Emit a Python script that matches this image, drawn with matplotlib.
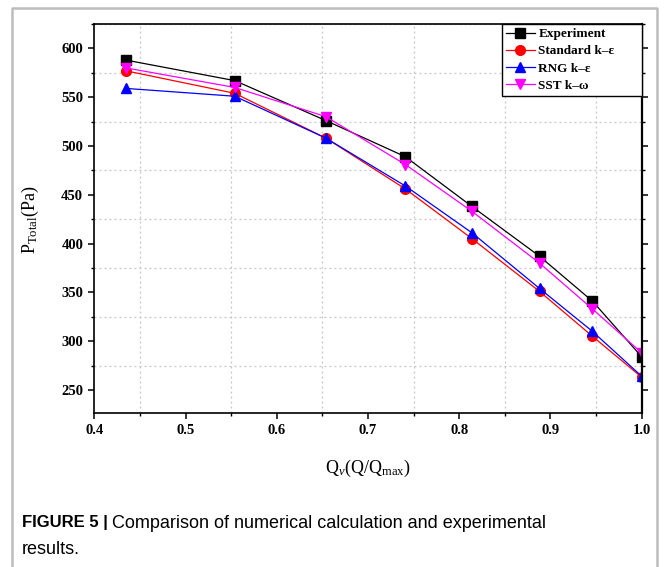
import matplotlib
matplotlib.use("Agg")
import matplotlib.pyplot as plt
from matplotlib.lines import Line2D
from matplotlib.ticker import MultipleLocator

plt.rcParams["font.family"] = "Liberation Serif"
plt.rcParams["mathtext.fontset"] = "custom"
plt.rcParams["mathtext.rm"] = "Liberation Serif"
plt.rcParams["mathtext.it"] = "Liberation Serif:italic"
plt.rcParams["mathtext.bf"] = "Liberation Serif:bold"

# data
flow_ratio = [0.435, 0.554, 0.654, 0.741, 0.814, 0.888, 0.946, 1.0]
experiment = [588, 567, 526, 489, 438, 387, 341, 284]
standard_ke = [577, 554, 508, 456, 405, 351, 305, 263]
rng_ke = [559, 551, 508, 459, 411, 354, 310, 264]
sst_kw = [580, 560, 530, 481, 433, 380, 333, 288]

series = [
    ("Experiment", experiment, "black", "s"),
    ("Standard k\u2013\u03b5", standard_ke, "red", "o"),
    ("RNG k\u2013\u03b5", rng_ke, "blue", "^"),
    ("SST k\u2013\u03c9", sst_kw, "magenta", "v"),
]

fig = plt.figure(figsize=(6.64, 5.67), dpi=100)
ax = fig.add_axes([0.142, 0.271, 0.8244, 0.6866])

for label, vals, color, marker in series:
    ax.plot(flow_ratio, vals, color=color, marker=marker, markersize=7,
            linewidth=0.9, label=label)

ax.set_xlim(0.4, 1.0)
ax.set_ylim(226, 625)
ax.xaxis.set_major_locator(MultipleLocator(0.1))
ax.xaxis.set_minor_locator(MultipleLocator(0.05))
ax.yaxis.set_major_locator(MultipleLocator(50))
ax.yaxis.set_minor_locator(MultipleLocator(25))
ax.xaxis.set_major_formatter(plt.FormatStrFormatter("%.1f"))

ax.grid(which="minor", linestyle=(0, (1.5, 2.5)), color="#c4c4c4", linewidth=0.9)
ax.grid(which="major", visible=False)
ax.tick_params(which="major", direction="out", length=4.5, width=1.1,
               labelsize=10.5, right=True)
ax.tick_params(which="minor", direction="out", length=2.5, width=1.0, right=True)
for lab in ax.get_xticklabels() + ax.get_yticklabels():
    lab.set_fontweight("bold")
for sp in ax.spines.values():
    sp.set_linewidth(1.2)
ax.spines["right"].set_linewidth(1.6)

leg = ax.legend(loc="upper right", bbox_to_anchor=(0.744, 0.0, 0.256, 1.0), mode="expand",
                borderaxespad=0, prop={"weight": "bold", "size": 9.5},
                handlelength=2.2, handletextpad=0.3, borderpad=0.3,
                labelspacing=0.38, fancybox=False, framealpha=1, edgecolor="black")
leg.get_frame().set_linewidth(1.0)

fig.text(30 / 664, 1 - 220 / 567, r"P$_{\mathregular{Total}}$(Pa)", rotation=90,
         ha="center", va="center", fontsize=13)
fig.text(368 / 664, 1 - 468 / 567, r"Q$_{v}$(Q/Q$_{\mathregular{max}}$)",
         ha="center", va="center", fontsize=13)

# caption
cap_font = "Liberation Sans"
t = fig.text(22 / 664, 1 - 523 / 567, "FIGURE 5 | ", fontsize=12,
             fontweight="bold", family=cap_font, va="center")
fig.canvas.draw()
bb = t.get_window_extent()
fig.text(bb.x1 / 664, 1 - 523 / 567, "Comparison of numerical calculation and experimental",
         fontsize=13, family=cap_font, va="center")
fig.text(22 / 664, 1 - 550 / 567, "results.", fontsize=13, family=cap_font, va="center")

# light frame around the figure panel
fx = [12 / 664, 12 / 664, 657 / 664, 657 / 664]
fy = [0.0, 1 - 8 / 567, 1 - 8 / 567, 0.0]
fig.add_artist(Line2D(fx, fy, color="#bdbdbd", linewidth=1.8, transform=fig.transFigure))

fig.savefig("out.png", dpi=100)
